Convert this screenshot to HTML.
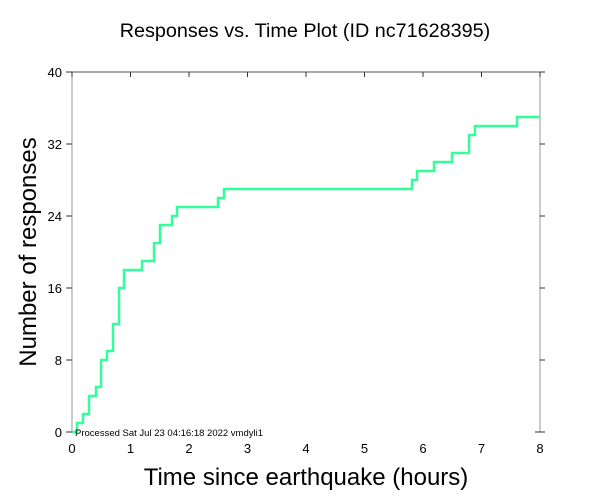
<!DOCTYPE html>
<html><head><style>body{margin:0;background:#fff}svg{display:block}text{font-family:"Liberation Sans",sans-serif}</style></head>
<body>
<svg width="612" height="504" viewBox="0 0 612 504">
<rect width="612" height="504" fill="#fff"/>
<text x="305" y="37" font-size="19.8" text-anchor="middle">Responses vs. Time Plot (ID nc71628395)</text>
<line x1="72" y1="72" x2="72" y2="432" stroke="#999" stroke-width="1"/>
<line x1="540" y1="72" x2="540" y2="432" stroke="#999" stroke-width="1"/>
<line x1="72" y1="72" x2="540" y2="72" stroke="#555" stroke-width="1"/>
<g stroke="#333" stroke-width="1">
<line x1="72" y1="72" x2="72" y2="77"/><line x1="130.5" y1="72" x2="130.5" y2="77"/><line x1="189" y1="72" x2="189" y2="77"/><line x1="247.5" y1="72" x2="247.5" y2="77"/><line x1="306" y1="72" x2="306" y2="77"/><line x1="364.5" y1="72" x2="364.5" y2="77"/><line x1="423" y1="72" x2="423" y2="77"/><line x1="481.5" y1="72" x2="481.5" y2="77"/><line x1="540" y1="72" x2="540" y2="77"/>
<line x1="66" y1="72" x2="72" y2="72"/><line x1="66" y1="144" x2="72" y2="144"/><line x1="66" y1="216" x2="72" y2="216"/><line x1="66" y1="288" x2="72" y2="288"/><line x1="66" y1="360" x2="72" y2="360"/><line x1="66" y1="432" x2="72" y2="432"/>
<line x1="540" y1="72" x2="545" y2="72"/><line x1="540" y1="144" x2="545" y2="144"/><line x1="540" y1="216" x2="545" y2="216"/><line x1="540" y1="288" x2="545" y2="288"/><line x1="540" y1="360" x2="545" y2="360"/><line x1="535" y1="432" x2="545" y2="432"/>
</g>
<g font-size="13" text-anchor="end">
<text x="62" y="77">40</text><text x="62" y="149">32</text><text x="62" y="221">24</text><text x="62" y="293">16</text><text x="62" y="365">8</text><text x="62" y="437">0</text>
</g>
<g font-size="13" text-anchor="middle">
<text x="72" y="453">0</text><text x="130.5" y="453">1</text><text x="189" y="453">2</text><text x="247.5" y="453">3</text><text x="306" y="453">4</text><text x="364.5" y="453">5</text><text x="423" y="453">6</text><text x="481.5" y="453">7</text><text x="540" y="453">8</text>
</g>
<text x="306" y="485" font-size="24" text-anchor="middle">Time since earthquake (hours)</text>
<text transform="translate(36,252) rotate(-90)" font-size="24" text-anchor="middle">Number of responses</text>
<polyline fill="none" stroke="#33ff99" stroke-width="2.5" points="72,432 77,432 77,423 83,423 83,414 89,414 89,396 96,396 96,387 101,387 101,360 107,360 107,351 113,351 113,324 119,324 119,288 124,288 124,270 142,270 142,261 154,261 154,243 160,243 160,225 172,225 172,216 177,216 177,207 218,207 218,198 224,198 224,189 412,189 412,180 417,180 417,171 434,171 434,162 452,162 452,153 469,153 469,135 475,135 475,126 517,126 517,117 540,117"/>
<text x="75" y="436" font-size="9.5">Processed Sat Jul 23 04:16:18 2022 vmdyli1</text>
</svg>
</body></html>
